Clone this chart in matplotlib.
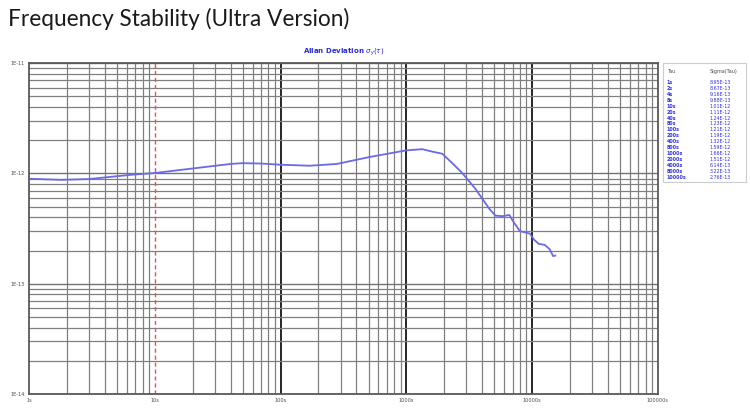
import numpy as np
import matplotlib.pyplot as plt

# curve
tau = [1, 1.8, 3, 6.3, 10, 20, 40, 50, 70, 100, 170, 280, 510, 1000, 1340, 1600,
       1930, 2320, 2780, 3530, 4560, 5100, 5800, 6600, 7000, 8000, 9600, 10400,
       11300, 12600, 13800, 14700, 15300]
adev = [8.95e-13, 8.75e-13, 8.9e-13, 9.7e-13, 1.01e-12, 1.11e-12, 1.22e-12, 1.24e-12, 1.23e-12,
        1.2e-12, 1.175e-12, 1.22e-12, 1.41e-12, 1.62e-12, 1.66e-12, 1.58e-12,
        1.51e-12, 1.24e-12, 1.01e-12, 7.3e-13, 4.8e-13, 4.15e-13, 4.1e-13, 4.2e-13,
        3.75e-13, 3.0e-13, 2.85e-13, 2.5e-13, 2.3e-13, 2.25e-13, 2.06e-13, 1.78e-13, 1.8e-13]

# table on the right
tab_tau = ['1s', '2s', '4s', '8s', '10s', '20s', '40s', '80s', '100s', '200s', '400s',
           '800s', '1000s', '2000s', '4000s', '8000s', '10000s']
tab_sig = ['8.95E-13', '8.67E-13', '9.16E-13', '9.88E-13', '1.01E-12', '1.11E-12', '1.24E-12',
           '1.23E-12', '1.21E-12', '1.19E-12', '1.32E-12', '1.59E-12', '1.66E-12', '1.51E-12',
           '6.14E-13', '3.22E-13', '2.76E-13']

xticks = [1, 10, 100, 1000, 10000, 100000]
xlabels = ['1s', '10s', '100s', '1000s', '10000s', '100000s']
yticks = [1e-14, 1e-13, 1e-12, 1e-11]
ylabels = ['1E-14', '1E-13', '1E-12', '1E-11']

fig = plt.figure(figsize=(7.5, 4.13), dpi=100)
ax = fig.add_axes([0.039, 0.046, 0.838, 0.801])
ax.set_xscale('log')
ax.set_yscale('log')
ax.set_xlim(1, 100000)
ax.set_ylim(1e-14, 1e-11)

ax.grid(True, which='minor', color='0.5', lw=0.9)
ax.grid(True, which='major', axis='y', color='0.45', lw=1.0)
for t in xticks[2:-1]:
    ax.axvline(t, color='0.15', lw=1.4, zorder=0.5)
ax.set_axisbelow(True)

ax.axvline(10, color='#e8505f', lw=1.0, ls=(0, (3, 2)), zorder=1)
ax.plot(tau, adev, color='#6a6ae6', lw=1.3, zorder=2)

ax.set_xticks(xticks)
ax.set_xticklabels(xlabels)
ax.set_yticks(yticks)
ax.set_yticklabels(ylabels)
ax.tick_params(which='both', length=0, labelsize=3.6, colors='0.3', pad=3)
for s in ax.spines.values():
    s.set_color('0.35')
    s.set_linewidth(1.3)

ax.set_title(r'Allan Deviation $\sigma_y(\tau)$', color='#2a2ae0', fontsize=5,
             fontweight='bold', pad=7)

fig.text(0.011, 0.955, 'Frequency Stability (Ultra Version)', fontsize=16.3,
         family='Lato', va='center', ha='left', color='0.1')

# table box
box = plt.Rectangle((0.884, 0.56), 0.111, 0.288, transform=fig.transFigure,
                    facecolor='white', edgecolor='0.8', lw=0.8)
fig.patches.append(box)
fig.text(0.889, 0.827, 'Tau', fontsize=3.6, color='0.3', va='center')
fig.text(0.946, 0.827, 'Sigma(Tau)', fontsize=3.6, color='0.3', va='center')
for i in range(len(tab_tau)):
    yy = 0.800 - i * 0.0143
    fig.text(0.889, yy, tab_tau[i], fontsize=3.4, color='#3030e0', va='center',
             fontweight='bold')
    fig.text(0.946, yy, tab_sig[i], fontsize=3.4, color='#3030e0', va='center')

fig.savefig('out.png', dpi=100)
